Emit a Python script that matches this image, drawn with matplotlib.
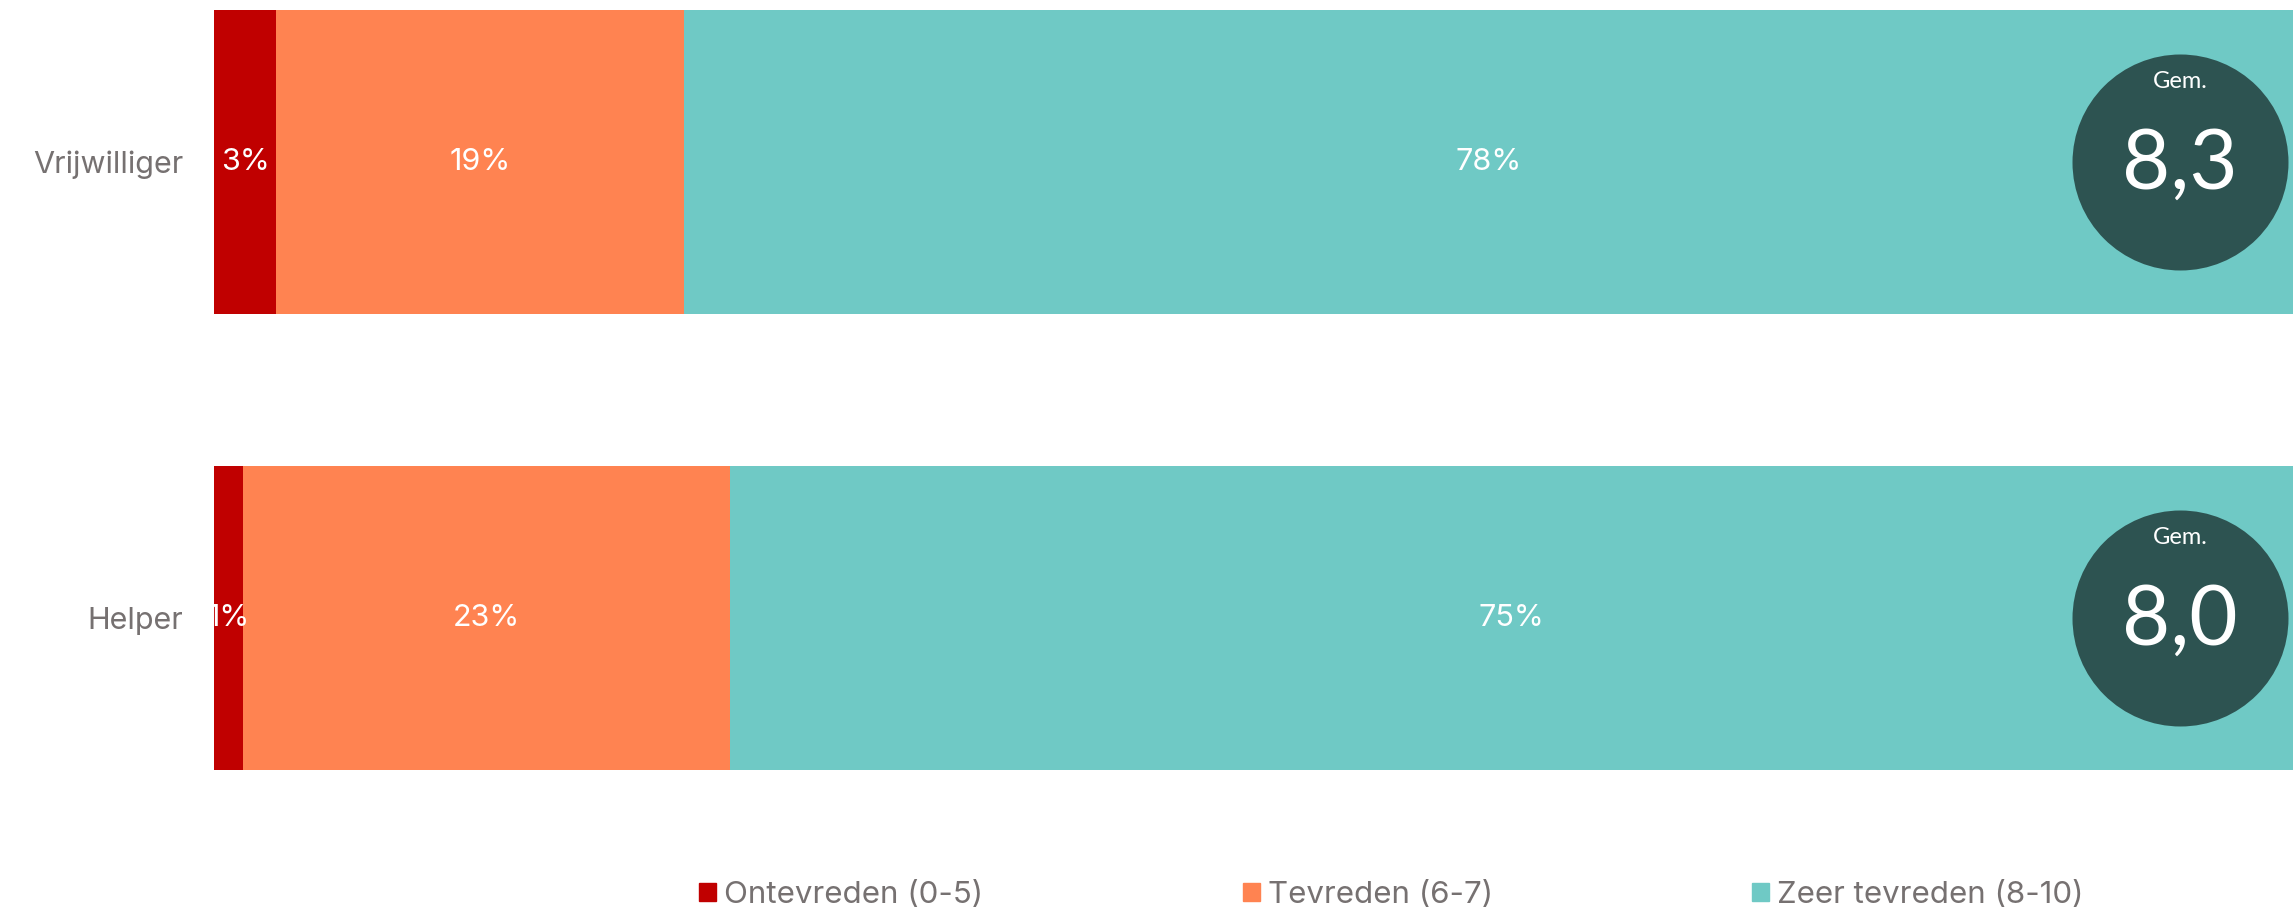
import numpy as np
import matplotlib
matplotlib.use("Agg")
import matplotlib.pyplot as plt
from matplotlib.patches import Patch

# data
groepen = ["Vrijwilliger", "Helper"]
categorieen = ["Ontevreden (0-5)", "Tevreden (6-7)", "Zeer tevreden (8-10)"]
ontevreden = [3.0, 1.4]
tevreden = [19.6, 23.4]
zeer_tevreden = [77.4, 75.2]
labels_ontevreden = ["3%", "1%"]
labels_tevreden = ["19%", "23%"]
labels_zeer = ["78%", "75%"]
gemiddelde = ["8,3", "8,0"]

kleuren = ["#C00000", "#FF8351", "#6FC9C5"]
grijs = "#767171"
donker = "#2D5351"

plt.rcParams["font.family"] = ["Inter", "DejaVu Sans"]

fig = plt.figure(figsize=(22.93, 9.13), dpi=100)
ax = fig.add_axes([214 / 2293, 143 / 913, 2079 / 2293, 760 / 913])

h = 304 / 456
y = np.arange(len(groepen))
reeksen = [ontevreden, tevreden, zeer_tevreden]
teksten = [labels_ontevreden, labels_tevreden, labels_zeer]

links = np.zeros(len(groepen))
for waarden, lab, kleur, naam in zip(reeksen, teksten, kleuren, categorieen):
    waarden = np.array(waarden)
    ax.barh(y, waarden, left=links, height=h, color=kleur, label=naam)
    for i in range(len(groepen)):
        ax.text(links[i] + waarden[i] / 2, y[i], lab[i], ha="center", va="center",
                color="white", fontsize=22)
    links = links + waarden

# gemiddelde-cirkels
cx = 94.56
diam_pt = 216 * 72 / 100
ax.scatter([cx] * len(groepen), y, s=diam_pt ** 2, color=donker, zorder=3, linewidths=0)
for i in range(len(groepen)):
    ax.annotate("Gem.", (cx, y[i]), xytext=(0, 53), textcoords="offset points",
                ha="center", va="baseline", color="white", fontsize=17,
                family=["Lato", "DejaVu Sans"], zorder=4)
    ax.annotate(gemiddelde[i], (cx, y[i]), xytext=(0, -19.4), textcoords="offset points",
                ha="center", va="baseline", color="white", fontsize=60,
                family=["Lato", "DejaVu Sans"], zorder=4)

ax.set_xlim(0, 100)
ax.set_ylim(1 + h / 2, -h / 2)
ax.set_yticks(y)
ax.set_yticklabels(groepen, fontsize=22, color=grijs)
ax.tick_params(axis="y", length=0, pad=22)
ax.set_xticks([])
for s in ax.spines.values():
    s.set_visible(False)

handles = [Patch(color=k, label=c) for k, c in zip(kleuren, categorieen)]
fig.legend(handles=handles, loc="center left", bbox_to_anchor=(699 / 2293, 18 / 913),
           ncol=3, frameon=False, fontsize=22.5, labelcolor=grijs,
           handlelength=0.55, handleheight=0.55, handletextpad=0.25, columnspacing=8.3,
           borderpad=0, borderaxespad=0)

fig.savefig("out.png", dpi=100)
